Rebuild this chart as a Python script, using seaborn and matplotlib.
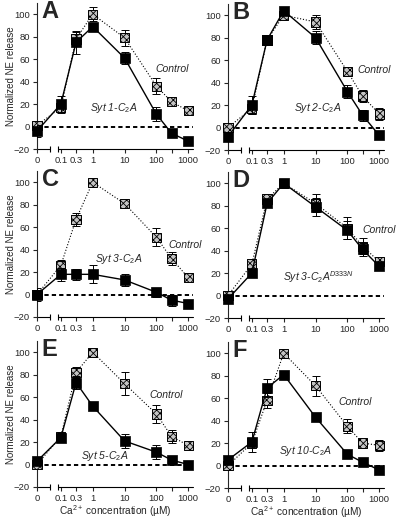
import matplotlib
matplotlib.use("Agg")
import matplotlib.pyplot as plt
import seaborn as sns
import numpy as np

# Ca2+ concentrations (uM); 0 is drawn on a separate stub left of the log axis
CA = [0, 0.1, 0.3, 1, 10, 100, 300, 1000]
XTICKS = [0, 0.1, 0.3, 1, 10, 100, 1000]
XTICKLABELS = ["0", "0.1", "0.3", "1", "10", "100", "1000"]
YTICKS = [-20, 0, 20, 40, 60, 80, 100]

LETTERS = ["A", "B", "C", "D", "E", "F"]
SYT_LABELS = [r"Syt 1-C$_2$A", r"Syt 2-C$_2$A", r"Syt 3-C$_2$A",
              r"Syt 3-C$_2$A$^{D333N}$", r"Syt 5-C$_2$A", r"Syt 10-C$_2$A"]

ctrl_a = [1, 17, 78, 100, 79, 36, 22, 14]
ctrl_a_err = [3, 5, 6, 6, 7, 7, 3, 2]
syt_a = [-4, 20, 75, 89, 61, 11, -6, -13]
syt_a_err = [5, 7, 10, 3, 5, 6, 2, 2]

ctrl_b = [0, 17, 78, 100, 94, 50, 28, 12]
ctrl_b_err = [3, 5, 3, 3, 6, 4, 5, 5]
syt_b = [-8, 20, 78, 104, 80, 32, 11, -7]
syt_b_err = [4, 8, 3, 3, 6, 6, 5, 2]

ctrl_c = [0, 26, 67, 100, 81, 51, 32, 15]
ctrl_c_err = [2, 5, 6, 1, 3, 8, 6, 2]
syt_c = [0, 18, 18, 18, 13, 2, -5, -8]
syt_c_err = [6, 6, 5, 8, 5, 4, 5, 2]

ctrl_d = [0, 28, 86, 100, 82, 60, 44, 30]
ctrl_d_err = [2, 3, 2, 2, 8, 10, 7, 3]
syt_d = [-3, 20, 82, 100, 79, 58, 41, 26]
syt_d_err = [3, 2, 3, 2, 8, 8, 6, 3]

ctrl_e = [0, 25, 82, 100, 72, 45, 25, 17]
ctrl_e_err = [2, 4, 5, 2, 10, 8, 6, 2]
syt_e = [3, 24, 73, 52, 21, 11, 4, 0]
syt_e_err = [3, 4, 6, 2, 6, 6, 2, 2]

ctrl_f = [0, 20, 58, 100, 71, 35, 20, 18]
ctrl_f_err = [2, 3, 7, 2, 9, 6, 3, 5]
syt_f = [5, 21, 69, 81, 43, 10, 3, -4]
syt_f_err = [3, 9, 8, 2, 2, 2, 2, 2]

# panel text positions (axes fraction)
CTRL_POS = [(0.76, 0.55), (0.83, 0.55), (0.84, 0.49), (0.86, 0.60), (0.72, 0.63), (0.71, 0.59)]
SYT_POS = [(0.34, 0.28), (0.42, 0.285), (0.37, 0.40), (0.35, 0.28), (0.28, 0.215), (0.33, 0.25)]

P0 = -1.75  # log-position where "0" sits


def fwd(v):
    v = np.asarray(v, dtype=float)
    return np.where(v > 0, np.log10(np.where(v > 0, v, 1.0)), P0)


def inv(p):
    return 10.0 ** np.asarray(p, dtype=float)


sns.set_style("ticks")
plt.rcParams["font.family"] = ["Liberation Sans", "DejaVu Sans"]
plt.rcParams["hatch.linewidth"] = 0.6
plt.rcParams["mathtext.fontset"] = "custom"
plt.rcParams["mathtext.it"] = "Liberation Sans:italic"
plt.rcParams["mathtext.rm"] = "Liberation Sans"

W, H = 400, 521
RECTS = [(37, 372), (228, 371), (37, 204), (228, 203), (37, 34), (228, 33)]
AW, AH = 156, 146


def draw_panel(ax, i, ctrl, ctrl_err, syt, syt_err):
    ax.set_xscale("function", functions=(fwd, inv))
    ax.axhline(0, color="black", lw=1.4, ls=(0, (2.2, 1.6)), zorder=1)

    # control: dotted line, hatched grey squares
    ax.errorbar(CA, ctrl, yerr=ctrl_err, fmt="none", ecolor="black",
                elinewidth=0.7, capsize=3.2, capthick=0.7, zorder=2)
    sns.lineplot(x=CA, y=ctrl, ax=ax, color="black", lw=0.8, ls=":",
                 estimator=None, sort=False, zorder=2)
    sns.scatterplot(x=CA, y=ctrl, ax=ax, marker="s", s=44, color="#c4c4c4",
                    edgecolor="black", linewidth=0.7, hatch="xxxxx",
                    zorder=3, clip_on=False)

    # syt fragment: solid line, black squares
    ax.errorbar(CA, syt, yerr=syt_err, fmt="none", ecolor="black",
                elinewidth=0.7, capsize=3.2, capthick=0.7, zorder=4)
    sns.lineplot(x=CA, y=syt, ax=ax, color="black", lw=1.0,
                 estimator=None, sort=False, zorder=4)
    sns.scatterplot(x=CA, y=syt, ax=ax, marker="s", s=44, color="black",
                    edgecolor="black", linewidth=0.5, zorder=5, clip_on=False)

    ax.set_xlim(0, 10 ** 3.15)
    ax.set_ylim(-20, 110)
    ax.set_xticks(XTICKS)
    ax.set_xticklabels(XTICKLABELS)
    ax.set_xticks([300], minor=True)
    ax.set_yticks(YTICKS)
    ax.tick_params(labelsize=6.8, length=3, width=0.8, pad=2)
    ax.tick_params(axis="x", which="minor", length=3, width=0.8)
    for s in ["top", "right", "bottom"]:
        ax.spines[s].set_visible(False)
    ax.spines["left"].set_linewidth(0.8)

    # broken x axis
    tr = ax.get_xaxis_transform()
    ax.plot([0, 0.045], [0, 0], transform=tr, color="black", lw=0.8, clip_on=False)
    ax.plot([0.08, 10 ** 3.15], [0, 0], transform=tr, color="black", lw=0.8, clip_on=False)
    ax.plot([0.045, 0.08], [0, 0], transform=tr, ls="none", marker="|", ms=5,
            mew=0.8, color="black", clip_on=False)

    ax.text(0.03, 1.02, LETTERS[i], transform=ax.transAxes, fontsize=17,
            fontweight="bold", va="top", ha="left")
    ax.text(*CTRL_POS[i], "Control", transform=ax.transAxes, fontsize=7.5,
            style="italic", va="center", ha="left")
    ax.text(*SYT_POS[i], SYT_LABELS[i], transform=ax.transAxes, fontsize=7.5,
            style="italic", va="center", ha="left")
    ax.set_xlabel("")
    ax.set_ylabel("")


fig = plt.figure(figsize=(W / 100, H / 100), dpi=100)
data = [(ctrl_a, ctrl_a_err, syt_a, syt_a_err),
        (ctrl_b, ctrl_b_err, syt_b, syt_b_err),
        (ctrl_c, ctrl_c_err, syt_c, syt_c_err),
        (ctrl_d, ctrl_d_err, syt_d, syt_d_err),
        (ctrl_e, ctrl_e_err, syt_e, syt_e_err),
        (ctrl_f, ctrl_f_err, syt_f, syt_f_err)]

for i, (l, b) in enumerate(RECTS):
    ax = fig.add_axes([l / W, b / H, AW / W, AH / H])
    draw_panel(ax, i, *data[i])
    if i % 2 == 0:
        ax.set_ylabel("Normalized NE release", fontsize=7)
        ax.yaxis.set_label_coords(-0.135, 0.5)
    if i >= 4:
        ax.set_xlabel(r"Ca$^{2+}$ concentration (µM)", fontsize=7.3, labelpad=0.5)

fig.savefig("out.png", dpi=100)
